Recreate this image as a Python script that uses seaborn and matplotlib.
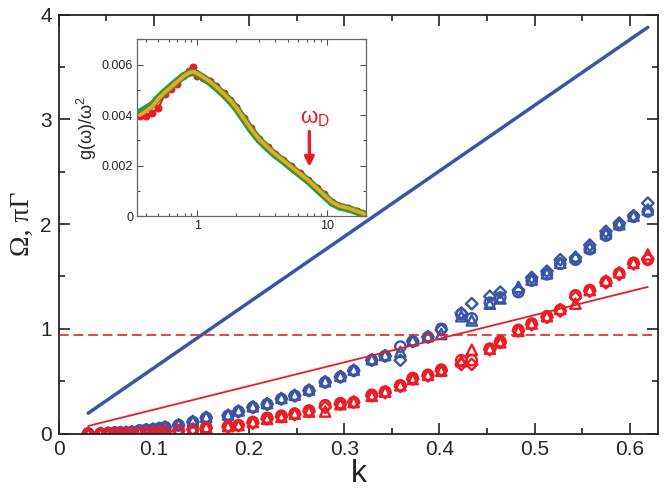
import numpy as np
import pandas as pd
import matplotlib
matplotlib.use("Agg")
import matplotlib.pyplot as plt
import matplotlib.ticker as mticker
import seaborn as sns

# ---------------- data ----------------
BLUE = "#3a55a6"
RED = "#ec1c24"
GREEN = "#2f9a3f"
ORANGE = "#f7a41c"

# dispersion fits (lines)
k_line = [0.031, 0.619]
omega_fit = [0.194, 3.88]      # blue solid line
gamma_fit = [0.072, 1.40]      # red thin line
ioffe_regel = 0.94             # red dashed level

# wave-vector grid of the simulation points
k = [0.031, 0.044, 0.052, 0.059, 0.065, 0.071, 0.077, 0.085, 0.092, 0.099,
     0.106, 0.112, 0.126, 0.141, 0.155, 0.178, 0.189, 0.204, 0.219, 0.234,
     0.248, 0.263, 0.280, 0.296, 0.310, 0.329, 0.343, 0.359, 0.372, 0.388,
     0.402, 0.423, 0.434, 0.453, 0.464, 0.483, 0.497, 0.513, 0.527, 0.543,
     0.558, 0.575, 0.589, 0.604, 0.619]

# Omega (blue), three system sizes
omega_circ = [0.00, 0.00, 0.005, 0.01, 0.01, 0.01, 0.015, 0.03, 0.035, 0.04,
              0.05, 0.06, 0.08, 0.11, 0.15, 0.17, 0.21, 0.25, 0.28, 0.33,
              0.36, 0.41, 0.49, 0.54, 0.60, 0.70, 0.74, 0.83, 0.88, 0.92,
              1.00, 1.14, 1.10, 1.25, 1.30, 1.35, 1.46, 1.52, 1.62, 1.66,
              1.76, 1.89, 1.99, 2.07, 2.12]
omega_tri = [0.00, 0.00, 0.005, 0.01, 0.01, 0.015, 0.02, 0.03, 0.04, 0.045,
             0.05, 0.065, 0.085, 0.12, 0.16, 0.18, 0.22, 0.26, 0.29, 0.34,
             0.37, 0.42, 0.50, 0.55, 0.61, 0.71, 0.75, 0.78, 0.89, 0.93,
             0.95, 1.12, 1.08, 1.24, 1.29, 1.40, 1.47, 1.53, 1.63, 1.69,
             1.78, 1.91, 2.00, 2.08, 2.14]
omega_dia = [0.00, 0.00, 0.00, 0.005, 0.01, 0.01, 0.015, 0.025, 0.035, 0.04,
             0.05, 0.06, 0.08, 0.11, 0.15, 0.17, 0.21, 0.25, 0.28, 0.33,
             0.36, 0.41, 0.49, 0.54, 0.60, 0.70, 0.74, 0.70, 0.88, 0.92,
             0.99, 1.15, 1.24, 1.31, 1.35, 1.37, 1.49, 1.55, 1.66, 1.68,
             1.80, 1.93, 2.01, 2.08, 2.20]

# pi*Gamma (red), three system sizes
gamma_circ = [0.00, 0.00, 0.00, 0.00, 0.00, 0.00, 0.005, 0.01, 0.01, 0.01,
              0.015, 0.02, 0.03, 0.04, 0.06, 0.07, 0.08, 0.11, 0.15, 0.17,
              0.19, 0.22, 0.27, 0.29, 0.30, 0.37, 0.40, 0.46, 0.53, 0.56,
              0.61, 0.70, 0.70, 0.81, 0.88, 0.99, 1.05, 1.12, 1.18, 1.32,
              1.37, 1.45, 1.53, 1.63, 1.66]
gamma_tri = [0.00, 0.00, 0.00, 0.00, 0.00, 0.005, 0.005, 0.01, 0.01, 0.015,
             0.02, 0.02, 0.03, 0.045, 0.06, 0.07, 0.08, 0.11, 0.14, 0.16,
             0.19, 0.21, 0.21, 0.28, 0.30, 0.36, 0.40, 0.46, 0.52, 0.56,
             0.60, 0.69, 0.80, 0.81, 0.87, 0.98, 1.05, 1.12, 1.19, 1.24,
             1.37, 1.46, 1.54, 1.63, 1.71]
gamma_dia = [0.00, 0.00, 0.00, 0.00, 0.00, 0.00, 0.00, 0.005, 0.01, 0.01,
             0.01, 0.02, 0.025, 0.04, 0.05, 0.065, 0.075, 0.10, 0.14, 0.16,
             0.18, 0.21, 0.25, 0.28, 0.30, 0.36, 0.39, 0.45, 0.52, 0.55,
             0.60, 0.66, 0.66, 0.80, 0.87, 0.98, 1.04, 1.11, 1.17, 1.30,
             1.36, 1.44, 1.52, 1.62, 1.67]

# inset: g(w)/w^2
w_in = [0.36, 0.40, 0.45, 0.50, 0.56, 0.63, 0.70, 0.78, 0.86, 0.93, 1.0,
        1.1, 1.25, 1.4, 1.6, 1.8, 2.0, 2.3, 2.6, 3.0, 3.5, 4.0, 4.6, 5.3,
        6.2, 7.2, 8.4, 9.5, 11.0, 12.5, 14.5, 17.0, 19.5]
g_orange = [0.00400, 0.00415, 0.00435, 0.00465, 0.00490, 0.00512, 0.00533,
            0.00553, 0.00568, 0.00572, 0.00565, 0.00552, 0.00533, 0.00512,
            0.00485, 0.00458, 0.00430, 0.00385, 0.00345, 0.00305, 0.00272,
            0.00245, 0.00222, 0.00196, 0.00168, 0.00142, 0.00110, 0.00085,
            0.00055, 0.00040, 0.00032, 0.00020, 0.00008]
g_green = [0.00412, 0.00425, 0.00442, 0.00468, 0.00492, 0.00515, 0.00535,
           0.00555, 0.00566, 0.00570, 0.00563, 0.00550, 0.00530, 0.00509,
           0.00482, 0.00455, 0.00427, 0.00382, 0.00342, 0.00302, 0.00269,
           0.00242, 0.00219, 0.00193, 0.00165, 0.00139, 0.00107, 0.00082,
           0.00052, 0.00038, 0.00030, 0.00018, 0.00007]
g_red = [0.00398, 0.00398, 0.00410, 0.00428, 0.00482, 0.00505, 0.00525,
         0.00555, 0.00575, 0.00590, 0.00555, 0.00548, 0.00535, 0.00515,
         0.00488, 0.00460, 0.00432, 0.00388, 0.00348, 0.00306, 0.00273,
         0.00246, 0.00223, 0.00197, 0.00169, 0.00143, 0.00111, 0.00086,
         0.00056, 0.00041, 0.00033, 0.00021, 0.00009]

# ---------------- figure ----------------
sns.set_style("ticks")
plt.rcParams["font.family"] = ["Liberation Sans", "DejaVu Sans"]
plt.rcParams["mathtext.fontset"] = "custom"
plt.rcParams["mathtext.rm"] = "Liberation Sans"
plt.rcParams["mathtext.it"] = "Liberation Sans"

fig = plt.figure(figsize=(6.64, 4.9), dpi=100)
ax = fig.add_axes([0.0884, 0.1153, 0.903, 0.8547])

sns.lineplot(x=k_line, y=omega_fit, color=BLUE, lw=2.5, ax=ax, zorder=3)
sns.lineplot(x=k_line, y=gamma_fit, color=RED, lw=1.3, ax=ax, zorder=3)
ax.axhline(ioffe_regel, color=RED, lw=1.4, ls=(0, (5, 2.5)), alpha=0.85, zorder=3)

markers = {"o": (omega_circ, gamma_circ), "^": (omega_tri, gamma_tri),
           "D": (omega_dia, gamma_dia)}
sizes = {"o": 55, "^": 55, "D": 34}
for m, (om, ga) in markers.items():
    sns.scatterplot(x=k, y=om, marker=m, s=sizes[m], facecolors="none",
                    edgecolors=BLUE, linewidth=1.7, ax=ax, zorder=2)
    sns.scatterplot(x=k, y=ga, marker=m, s=sizes[m], facecolors="none",
                    edgecolors=RED, linewidth=1.7, ax=ax, zorder=2)

ax.set_xlim(0, 0.63)
ax.set_ylim(0, 4)
ax.xaxis.set_major_locator(mticker.MultipleLocator(0.1))
ax.xaxis.set_minor_locator(mticker.MultipleLocator(0.05))
ax.yaxis.set_major_locator(mticker.MultipleLocator(1))
ax.yaxis.set_minor_locator(mticker.MultipleLocator(0.5))
fmt = mticker.FuncFormatter(lambda v, p: "0" if abs(v) < 1e-9 else "%g" % v)
ax.xaxis.set_major_formatter(fmt)
ax.yaxis.set_major_formatter(fmt)
ax.tick_params(which="both", direction="in", top=True, right=True,
               labelsize=15, color="#222222")
ax.tick_params(which="major", length=8, width=1.2, pad=5)
ax.tick_params(which="minor", length=4.5, width=1.2)
for s in ax.spines.values():
    s.set_linewidth(1.3)
    s.set_color("#222222")
ax.set_xlabel("k", fontsize=23, labelpad=0)
ax.set_ylabel("Ω, πΓ", fontsize=20, family=["Liberation Serif", "DejaVu Serif"],
              labelpad=4)

# ---------------- inset ----------------
axi = fig.add_axes([0.2068, 0.559, 0.344, 0.3606])
sns.lineplot(x=w_in, y=g_red, color=RED, lw=1.5, marker="o", ms=5,
             mec=RED, ax=axi, zorder=2)
sns.lineplot(x=w_in, y=g_green, color=GREEN, lw=5.5, ax=axi, zorder=3)
sns.lineplot(x=w_in, y=g_orange, color=ORANGE, lw=2.6, ax=axi, zorder=4)
axi.set_xscale("log")
axi.set_xlim(0.344, 20)
axi.set_ylim(0, 0.007)
axi.yaxis.set_major_locator(mticker.MultipleLocator(0.002))
axi.yaxis.set_minor_locator(mticker.MultipleLocator(0.001))
axi.yaxis.set_major_formatter(fmt)
axi.xaxis.set_major_formatter(mticker.FuncFormatter(lambda v, p: "%g" % v))
axi.xaxis.set_minor_formatter(mticker.NullFormatter())
axi.tick_params(which="both", direction="in", top=True, right=True,
                labelsize=9, color="#555555", pad=3)
axi.tick_params(which="major", length=4.5, width=0.8)
axi.tick_params(which="minor", length=2.5, width=0.8)
for s in axi.spines.values():
    s.set_linewidth(0.9)
    s.set_color("#666666")
axi.set_ylabel(r"g(ω)/ω$^2$", fontsize=13, labelpad=2)

axi.annotate("", xy=(7.34, 0.00195), xytext=(7.34, 0.00335),
             arrowprops=dict(arrowstyle="-|>", color=RED, lw=2.4,
                             mutation_scale=14, shrinkA=0, shrinkB=0))
axi.text(8.1, 0.00368, r"$\omega_D$", color=RED, fontsize=16,
         ha="center", va="baseline")

fig.savefig("out.png", dpi=100)
